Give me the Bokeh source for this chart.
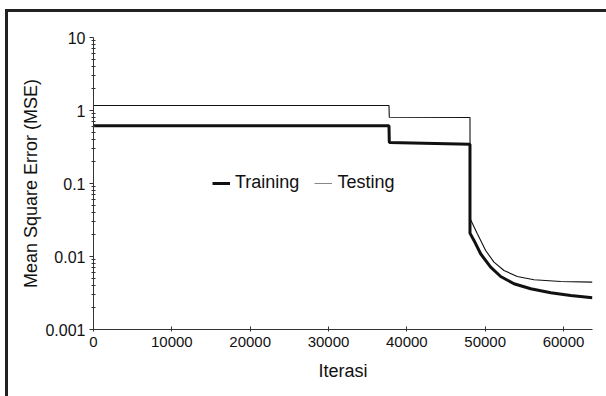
from bokeh.plotting import figure
from bokeh.models import FixedTicker, Legend, LegendItem
from bokeh.embed import file_html
from bokeh.resources import INLINE

# Data
train_iter = [0, 37720, 37760, 48060, 48060, 48570, 49420, 50700, 51980, 53680,
              55810, 58370, 60920, 63690]
train_mse = [0.62, 0.62, 0.365, 0.345, 0.0209, 0.0166, 0.0109, 0.00713, 0.00532,
             0.00423, 0.00361, 0.00318, 0.00292, 0.00272]

test_iter = [0, 37720, 37760, 48060, 48080, 49000, 50060, 51120, 52400, 54100,
             56230, 59640, 63690]
test_mse = [1.17, 1.17, 0.81, 0.80, 0.0328, 0.0205, 0.0121, 0.00836, 0.00643,
            0.00532, 0.0048, 0.00455, 0.00445]

x_ticks = [0, 10000, 20000, 30000, 40000, 50000, 60000]
y_ticks = [0.001, 0.01, 0.1, 1, 10]
y_tick_labels = ["0.001", "0.01", "0.1", "1", "10"]
series_names = ["Training", "Testing"]
x_title = "Iterasi"
y_title = "Mean Square Error (MSE)"

FONT = "Liberation Sans"

p = figure(frame_width=499, frame_height=292,
           min_border_left=85, min_border_right=14, min_border_top=25, min_border_bottom=67,
           x_range=(0, 63700), y_range=(0.001, 10), y_axis_type="log",
           output_backend="svg", toolbar_location=None)
p.styles = {"border-top": "3px solid #222", "border-left": "3px solid #222",
            "margin-left": "5px", "margin-top": "9px"}

p.xgrid.visible = False
p.ygrid.visible = False
p.outline_line_color = None
p.background_fill_color = "white"
p.border_fill_color = "white"

tr = p.line(train_iter, train_mse, line_color="#111111", line_width=3)
te = p.line(test_iter, test_mse, line_color="#111111", line_width=1.1)
# legend swatches (single-point lines draw nothing in the plot area)
tr_leg = p.line(train_iter[:1], train_mse[:1], line_color="#111111", line_width=3)
te_leg = p.line(test_iter[:1], test_mse[:1], line_color="#888888", line_width=1)

legend = Legend(items=[LegendItem(label=series_names[0], renderers=[tr_leg]),
                       LegendItem(label=series_names[1], renderers=[te_leg])],
                orientation="horizontal", location=(119, 136),
                border_line_color=None, background_fill_alpha=0,
                padding=0, margin=0, spacing=15, label_standoff=5,
                glyph_width=18, glyph_height=20,
                label_text_font=FONT, label_text_font_size="18px",
                label_text_color="#111111")
p.add_layout(legend, "center")

xa = p.xaxis[0]
xa.ticker = FixedTicker(ticks=x_ticks, minor_ticks=[])
xa.axis_label = x_title
ya = p.yaxis[0]
ya.ticker = FixedTicker(ticks=y_ticks,
                        minor_ticks=[m * 10.0 ** e for e in range(-3, 1) for m in range(2, 10)])
ya.major_label_overrides = {t: l for t, l in zip(y_ticks, y_tick_labels)}
ya.axis_label = y_title

for ax in (xa, ya):
    ax.axis_line_color = "#333333"
    ax.major_tick_line_color = "#333333"
    ax.minor_tick_line_color = "#333333"
    ax.major_label_text_font = FONT
    ax.major_label_text_color = "#111111"
    ax.axis_label_text_font = FONT
    ax.axis_label_text_font_style = "normal"
    ax.axis_label_text_color = "#111111"
    ax.axis_label_text_font_size = "18px"

xa.major_tick_in = 3
xa.major_tick_out = 2
xa.major_label_text_font_size = "15px"
xa.major_label_standoff = 5
xa.axis_label_standoff = 11

ya.major_tick_in = 0
ya.major_tick_out = 4
ya.minor_tick_in = 2
ya.minor_tick_out = 2
ya.major_label_text_font_size = "16px"
ya.major_label_standoff = 4
ya.axis_label_standoff = 1

open("out.html", "w").write(file_html(p, INLINE))
